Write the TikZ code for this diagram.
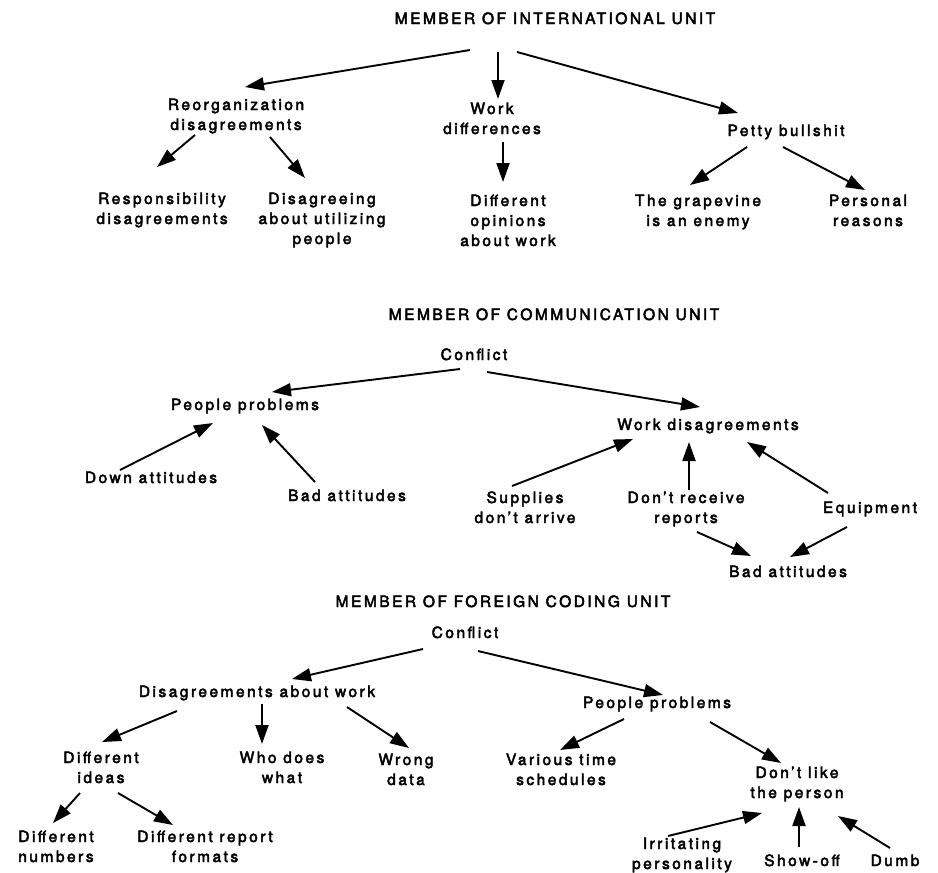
\documentclass[tikz,border=0pt]{standalone}
\usepackage{fontspec}
\setmainfont[LetterSpace=16,FakeBold=3]{TeX Gyre Heros}
\usetikzlibrary{arrows.meta}
\newcommand{\mltext}[1]{\begin{tabular}[t]{@{}c@{}}#1\end{tabular}}
\tikzset{
  lbl/.style={anchor=base, inner sep=0pt, font=\fontsize{15.5}{20}\selectfont},
  arr/.style={-{Triangle[length=19pt,width=13pt]}, line width=1.9pt},
}
\begin{document}
\begin{tikzpicture}[x=1pt,y=-1pt]
\useasboundingbox (0,0) rectangle (938,873);
% ---------- International unit
\node[lbl] (t1) at (555,24) {MEMBER OF INTERNATIONAL UNIT};
\node[lbl] (reorg) at (236,110) {\mltext{Reorganization\\disagreements}};
\node[lbl] (workdiff) at (492,114) {\mltext{Work\\differences}};
\node[lbl] (petty) at (786,136) {Petty bullshit};
\node[lbl] (resp) at (162,204) {\mltext{Responsibility\\disagreements}};
\node[lbl] (disag) at (322,204) {\mltext{Disagreeing\\about utilizing\\people}};
\node[lbl] (diffop) at (508,206) {\mltext{Different\\opinions\\about work}};
\node[lbl] (grape) at (698,206) {\mltext{The grapevine\\is an enemy}};
\node[lbl] (personal) at (868,206) {\mltext{Personal\\reasons}};
\draw[arr] ([shift={(-85,26)}]t1.base) -- ([shift={(9,-23)}]reorg.base);
\draw[arr] ([shift={(-57,28)}]t1.base) -- ([shift={(6,-15)}]workdiff.base);
\draw[arr] ([shift={(-38,28)}]t1.base) -- ([shift={(-48,-23)}]petty.base);
\draw[arr] ([shift={(-41,25)}]reorg.base) -- ([shift={(-5,-37)}]resp.base);
\draw[arr] ([shift={(34,27)}]reorg.base) -- ([shift={(-17,-26)}]disag.base);
\draw[arr] ([shift={(11,28)}]workdiff.base) -- ([shift={(-5,-24)}]diffop.base);
\draw[arr] ([shift={(-39,11)}]petty.base) -- ([shift={(-8,-21)}]grape.base);
\draw[arr] ([shift={(-3,11)}]petty.base) -- ([shift={(-3,-16)}]personal.base);
% ---------- Communication unit
\node[lbl] (t2) at (554,320) {MEMBER OF COMMUNICATION UNIT};
\node[lbl] (conf1) at (474,360) {Conflict};
\node[lbl] (pp1) at (245,410) {People problems};
\node[lbl] (wd) at (708,430) {Work disagreements};
\node[lbl] (down) at (151,483) {Down attitudes};
\node[lbl] (bad1) at (347,501) {Bad attitudes};
\node[lbl] (supp) at (525,503) {\mltext{Supplies\\don’t arrive}};
\node[lbl] (dont) at (686,503) {\mltext{Don’t receive\\reports}};
\node[lbl] (equip) at (870,513) {Equipment};
\node[lbl] (bad2) at (788,577) {Bad attitudes};
\draw[arr] ([shift={(-14,9)}]conf1.base) -- ([shift={(27,-18)}]pp1.base);
\draw[arr] ([shift={(13,12)}]conf1.base) -- ([shift={(-8,-23)}]wd.base);
\draw[arr] ([shift={(-31,-13)}]down.base) -- ([shift={(-32,13)}]pp1.base);
\draw[arr] ([shift={(-32,-19)}]bad1.base) -- ([shift={(17,15)}]pp1.base);
\draw[arr] ([shift={(-13,-17)}]supp.base) -- ([shift={(-75,9)}]wd.base);
\draw[arr] ([shift={(3,-13)}]dont.base) -- ([shift={(-19,12)}]wd.base);
\draw[arr] ([shift={(-42,-20)}]equip.base) -- ([shift={(39,12)}]wd.base);
\draw[arr] ([shift={(11,29)}]dont.base) -- ([shift={(-37,-21)}]bad2.base);
\draw[arr] ([shift={(-23,14)}]equip.base) -- ([shift={(2,-20)}]bad2.base);
% ---------- Foreign coding unit
\node[lbl] (t3) at (503,607) {MEMBER OF FOREIGN CODING UNIT};
\node[lbl] (conf2) at (465,638) {Conflict};
\node[lbl] (daw) at (257,697) {Disagreements about work};
\node[lbl] (pp2) at (657,708) {People problems};
\node[lbl] (diffid) at (101,763) {\mltext{Different\\ideas}};
\node[lbl] (who) at (282,763) {\mltext{Who does\\what}};
\node[lbl] (wrong) at (406,765) {\mltext{Wrong\\data}};
\node[lbl] (various) at (561,765) {\mltext{Various time\\schedules}};
\node[lbl] (dontlike) at (797,778) {\mltext{Don’t like\\the person}};
\node[lbl] (diffnum) at (56,842) {\mltext{Different\\numbers}};
\node[lbl] (diffrep) at (205,842) {\mltext{Different report\\formats}};
\node[lbl] (irr) at (682,849) {\mltext{Irritating\\personality}};
\node[lbl] (show) at (802,866) {Show-off};
\node[lbl] (dumb) at (895,866) {Dumb};
\draw[arr] ([shift={(-42,11)}]conf2.base) -- ([shift={(35,-18)}]daw.base);
\draw[arr] ([shift={(13,13)}]conf2.base) -- ([shift={(6,-13)}]pp2.base);
\draw[arr] ([shift={(-80,14)}]daw.base) -- ([shift={(1,-21)}]diffid.base);
\draw[arr] ([shift={(5,7)}]daw.base) -- ([shift={(-20,-19)}]who.base);
\draw[arr] ([shift={(90,10)}]daw.base) -- ([shift={(3,-17)}]wrong.base);
\draw[arr] ([shift={(-33,11)}]pp2.base) -- ([shift={(-1,-15)}]various.base);
\draw[arr] ([shift={(53,14)}]pp2.base) -- ([shift={(-16,-15)}]dontlike.base);
\draw[arr] ([shift={(-21,30)}]diffid.base) -- ([shift={(-3,-19)}]diffnum.base);
\draw[arr] ([shift={(17,30)}]diffid.base) -- ([shift={(-32,-17)}]diffrep.base);
\draw[arr] ([shift={(-14,-13)}]irr.base) -- ([shift={(-35,35)}]dontlike.base);
\draw[arr] ([shift={(-3,-19)}]show.base) -- ([shift={(2,29)}]dontlike.base);
\draw[arr] ([shift={(-5,-18)}]dumb.base) -- ([shift={(41,38)}]dontlike.base);
\end{tikzpicture}
\end{document}
